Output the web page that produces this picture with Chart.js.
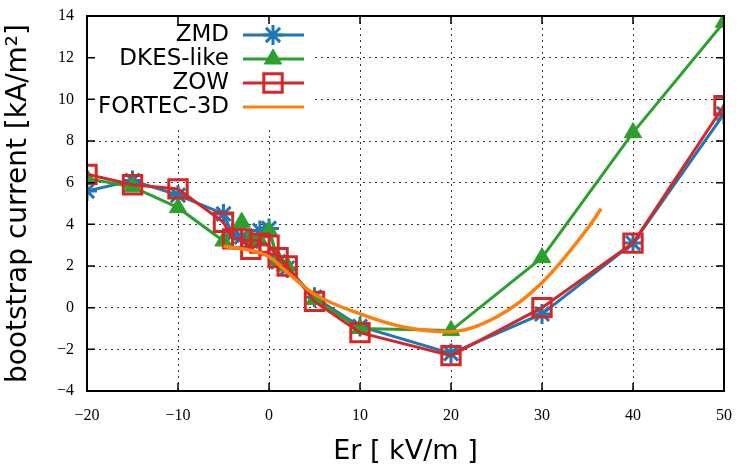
<!DOCTYPE html>
<html>
<head>
<meta charset="utf-8">
<script src="https://cdn.jsdelivr.net/npm/chart.js@4/dist/chart.umd.min.js"></script>
<style>
  html, body { margin: 0; padding: 0; background: #fff; }
  #wrap { width: 743px; height: 465px; }
</style>
</head>
<body>
<div id="wrap"><canvas id="bootChart" width="743" height="465"></canvas></div>
<script>
// radial electric field [kV/m]
var erGrid   = [-20, -15, -10, -5, -4, -3, -2, -1, 0, 1, 2, 5, 10, 20, 30, 40, 50]
var erDkes   = [-20, -15, -10, -5, -3, -2, -1, 0, 1, 2, 5, 10, 20, 30, 40, 50]
var erFortec = [-5, -2, 0, 2, 5, 10, 15, 20, 25, 30, 35, 36.5]

// bootstrap current [kA/m^2]
var zmdVals    = [5.6, 6.1, 5.4, 4.5, 3.5, 3.4, 3.2, 3.7, 3.8, 2.2, 1.9, 0.5, -0.9, -2.2, -0.3, 3.1, 9.3]
var dkesVals   = [6.2, 5.8, 4.8, 3.2, 4.1, 3.3, 3.2, 3.7, 2.3, 2.0, 0.4, -1.0, -1.1, 2.4, 8.4, 13.7]
var zowVals    = [6.4, 5.9, 5.7, 4.1, 3.3, 3.3, 2.8, 3.1, 3.0, 2.4, 2.0, 0.3, -1.2, -2.3, 0.0, 3.1, 9.7]
var fortecVals = [2.95, 2.75, 2.45, 1.7, 0.65, -0.3, -0.95, -1.15, -0.45, 1.2, 3.8, 4.75]

var xTicks = [-20, -10, 0, 10, 20, 30, 40, 50]
var yTicks = [-4, -2, 0, 2, 4, 6, 8, 10, 12, 14]

function pts(xs, ys) {
  return xs.map(function (x, i) { return { x: x, y: ys[i] } })
}
function minus(v) { return String(v).replace('-', '\u2212') }

var serif = '"Liberation Serif", "DejaVu Serif", serif'
var sans  = '"DejaVu Sans", "Liberation Sans", sans-serif'

// gnuplot-like frame, inward ticks and a boxed key
var framePlugin = {
  id: 'frame',
  afterDraw: function (chart) {
    var ctx = chart.ctx, a = chart.chartArea
    var xs = chart.scales.x, ys = chart.scales.y
    ctx.save()
    // key box
    ctx.fillStyle = '#fff'
    ctx.fillRect(a.left + 1, a.top + 6, 225, 104)
    ctx.strokeStyle = '#000'
    ctx.lineWidth = 1.5
    ctx.beginPath()
    xTicks.forEach(function (v) {
      var px = xs.getPixelForValue(v)
      ctx.moveTo(px, a.bottom); ctx.lineTo(px, a.bottom - 8)
      ctx.moveTo(px, a.top); ctx.lineTo(px, a.top + 8)
    })
    yTicks.forEach(function (v) {
      var py = ys.getPixelForValue(v)
      ctx.moveTo(a.left, py); ctx.lineTo(a.left + 8, py)
      ctx.moveTo(a.right, py); ctx.lineTo(a.right - 8, py)
    })
    ctx.stroke()
    ctx.lineWidth = 2
    ctx.strokeRect(a.left, a.top, a.right - a.left, a.bottom - a.top)

    // key entries
    ctx.font = '23px ' + sans
    ctx.textAlign = 'right'
    ctx.textBaseline = 'middle'
    chart.data.datasets.forEach(function (ds, i) {
      var y = a.top + 19 + i * 24
      ctx.fillStyle = '#000'
      ctx.fillText(ds.label, a.left + 142, y)
      ctx.strokeStyle = ds.borderColor
      ctx.lineWidth = 3
      ctx.beginPath()
      ctx.moveTo(a.left + 156, y); ctx.lineTo(a.left + 217, y)
      ctx.stroke()
      if (ds.pointStyle) {
        ctx.fillStyle = ds.pointBackgroundColor
        ctx.strokeStyle = ds.borderColor
        ctx.lineWidth = ds.pointBorderWidth
        Chart.helpers.drawPoint(ctx, {
          pointStyle: ds.pointStyle, radius: ds.pointRadius, rotation: 0, borderWidth: ds.pointBorderWidth
        }, a.left + 186, y)
      }
    })
    ctx.restore()
  }
}

var ctx = document.getElementById('bootChart').getContext('2d')
var bootChart = new Chart(ctx, {
  type: 'line',
  data: {
    datasets: [
      {
        label: 'ZMD', data: pts(erGrid, zmdVals),
        borderColor: '#1f77b4', backgroundColor: '#1f77b4', borderWidth: 3,
        pointStyle: 'star', pointRadius: 10, pointBorderWidth: 3,
        pointBackgroundColor: '#1f77b4', order: 4
      },
      {
        label: 'DKES-like', data: pts(erDkes, dkesVals),
        borderColor: '#2ca02c', backgroundColor: '#2ca02c', borderWidth: 3,
        pointStyle: 'triangle', pointRadius: 10, pointBorderWidth: 1,
        pointBackgroundColor: '#2ca02c', order: 3
      },
      {
        label: 'ZOW', data: pts(erGrid, zowVals),
        borderColor: '#d62728', backgroundColor: 'rgba(0,0,0,0)', borderWidth: 3,
        pointStyle: 'rect', pointRadius: 13, pointBorderWidth: 3,
        pointBackgroundColor: 'rgba(0,0,0,0)', order: 2
      },
      {
        label: 'FORTEC-3D', data: pts(erFortec, fortecVals),
        borderColor: '#ff7f0e', backgroundColor: '#ff7f0e', borderWidth: 3.5,
        pointRadius: 0, pointStyle: false, tension: 0.4,
        cubicInterpolationMode: 'monotone', order: 1
      }
    ]
  },
  options: {
    responsive: false,
    animation: false,
    layout: { padding: { top: 16, right: 19, left: 0, bottom: 0 } },
    plugins: { legend: { display: false }, tooltip: { enabled: false } },
    scales: {
      x: {
        type: 'linear', min: -20, max: 50,
        afterBuildTicks: function (s) { s.ticks = xTicks.map(function (v) { return { value: v } }) },
        afterFit: function (s) { s.height = 74; s.paddingLeft = 0; s.paddingRight = 0 },
        grid: { color: '#333', lineWidth: 1, drawTicks: false },
        border: { display: false, dash: [2, 4] },
        ticks: { padding: 15, color: '#000', font: { family: serif, size: 16 }, callback: minus, maxRotation: 0 },
        title: { display: true, text: 'Er [ kV/m ]', color: '#000', font: { family: sans, size: 27, lineHeight: 0.8 }, padding: { top: 8, bottom: 2 } }
      },
      y: {
        type: 'linear', min: -4, max: 14,
        afterBuildTicks: function (s) { s.ticks = yTicks.map(function (v) { return { value: v } }) },
        afterFit: function (s) { s.width = 87; s.paddingTop = 0; s.paddingBottom = 0 },
        grid: { color: '#333', lineWidth: 1, drawTicks: false },
        border: { display: false, dash: [2, 4] },
        ticks: { padding: 13, color: '#000', font: { family: serif, size: 16 }, callback: minus },
        title: { display: true, text: 'bootstrap current [kA/m\u00b2]', color: '#000', font: { family: sans, size: 28 }, padding: { bottom: 0, top: 2 } }
      }
    }
  },
  plugins: [framePlugin]
})
</script>
</body>
</html>
